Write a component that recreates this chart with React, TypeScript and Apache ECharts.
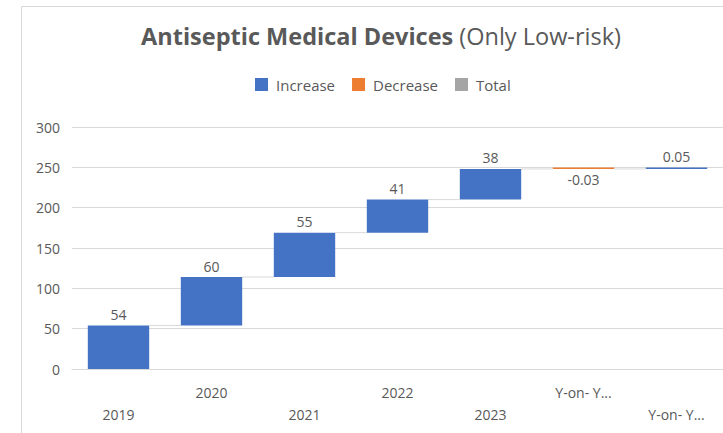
import React, { useEffect, useRef } from "react";
import * as echarts from "echarts";

// Waterfall data: yearly changes, then two year-on-year adjustments
const categories = ["2019", "2020", "2021", "2022", "2023", "Y-on- Y...", "Y-on- Y..."];
const deltas = [54, 60, 55, 41, 38, -0.03, 0.05];
const yTicks = { min: 0, max: 300, interval: 50 };

const FONT = "'Open Sans', 'Noto Sans', sans-serif";
const TEXT = "#595959";
const GRID = "#d9d9d9";
const BLUE = "#4472C4";
const ORANGE = "#ED7D31";
const GRAY = "#A5A5A5";

// running totals before / after each step
const before: number[] = [];
const after: number[] = [];
deltas.reduce((acc, d, i) => {
  before[i] = acc;
  after[i] = acc + d;
  return acc + d;
}, 0);

const baseVals = deltas.map((d, i) => (d >= 0 ? before[i] : after[i]));
const incVals = deltas.map((d) => (d >= 0 ? d : "-"));
const decVals = deltas.map((d) => (d < 0 ? -d : "-"));
const BAR_FRAC = 0.66;

export default function App() {
  const ref = useRef<HTMLDivElement>(null);
  useEffect(() => {
    if (!ref.current) return;
    const chart = echarts.init(ref.current, undefined, { renderer: "svg" });
    chart.setOption({
      animation: false,
      backgroundColor: "#ffffff",
      graphic: [
        {
          type: "rect",
          shape: { x: 21.5, y: 6.5, width: 800, height: 500 },
          style: { fill: "none", stroke: GRID, lineWidth: 1 },
          silent: true,
        },
        {
          type: "text",
          x: 381,
          y: 36,
          style: {
            text: "{b|Antiseptic Medical Devices}{n| (Only Low-risk)}",
            align: "center",
            verticalAlign: "middle",
            rich: {
              b: { fontFamily: FONT, fontSize: 23.5, fontWeight: "bold", fill: TEXT },
              n: { fontFamily: FONT, fontSize: 23.5, fill: TEXT },
            },
          },
        },
      ],
      legend: {
        data: ["Increase", "Decrease", "Total"],
        left: 255,
        top: 77,
        padding: 0,
        itemWidth: 13,
        itemHeight: 13,
        itemGap: 17,
        icon: "rect",
        textStyle: { fontFamily: FONT, fontSize: 15, color: TEXT, padding: [0, 0, 0, 3] },
      },
      grid: { left: 72, right: 0, top: 127, bottom: 64, containLabel: false },
      xAxis: {
        type: "category",
        data: categories,
        axisLine: { show: true, lineStyle: { color: GRID } },
        axisTick: { show: false },
        axisLabel: {
          interval: 0,
          margin: 12,
          fontFamily: FONT,
          fontSize: 14,
          color: TEXT,
          lineHeight: 22,
          formatter: (v: string, i: number) => (i % 2 === 0 ? "\n" + v : v),
        },
      },
      yAxis: {
        type: "value",
        min: yTicks.min,
        max: yTicks.max,
        interval: yTicks.interval,
        axisLine: { show: false },
        axisTick: { show: false },
        splitLine: { lineStyle: { color: GRID } },
        axisLabel: { margin: 12, fontFamily: FONT, fontSize: 14, color: TEXT },
      },
      series: [
        {
          name: "connector",
          type: "custom",
          z: 1,
          silent: true,
          data: deltas.slice(0, deltas.length - 1).map((_, i) => [i, after[i]]),
          encode: { x: 0, y: 1 },
          renderItem: (params: any, api: any) => {
            const i = api.value(0);
            const y = api.value(1);
            const p0 = api.coord([i, y]);
            const p1 = api.coord([i + 1, y]);
            const half = (api.size([1, 0])[0] * BAR_FRAC) / 2;
            return {
              type: "line",
              shape: { x1: p0[0] + half, y1: p0[1], x2: p1[0] - half, y2: p1[1] },
              style: { stroke: GRID, lineWidth: 1 },
            };
          },
        },
        {
          name: "base",
          type: "bar",
          stack: "w",
          barWidth: BAR_FRAC * 100 + "%",
          itemStyle: { color: "transparent" },
          silent: true,
          z: 2,
          data: baseVals,
        },
        {
          name: "Increase",
          type: "bar",
          stack: "w",
          z: 3,
          barMinHeight: 1.5,
          itemStyle: { color: BLUE },
          label: {
            show: true,
            position: "top",
            distance: 4,
            fontFamily: FONT,
            fontSize: 14,
            color: TEXT,
            formatter: (p: any) => String(deltas[p.dataIndex]),
          },
          data: incVals,
        },
        {
          name: "Decrease",
          type: "bar",
          stack: "w",
          z: 3,
          barMinHeight: 1.5,
          itemStyle: { color: ORANGE },
          label: {
            show: true,
            position: "bottom",
            distance: 4,
            fontFamily: FONT,
            fontSize: 14,
            color: TEXT,
            formatter: (p: any) => String(deltas[p.dataIndex]),
          },
          data: decVals,
        },
        {
          name: "Total",
          type: "bar",
          stack: "w",
          itemStyle: { color: GRAY },
          data: categories.map(() => "-"),
        },
      ],
    });
    return () => chart.dispose();
  }, []);
  return (
    <div
      ref={ref}
      style={{ position: "absolute", left: 0, top: 0, width: 723, height: 433, background: "#fff" }}
    />
  );
}
